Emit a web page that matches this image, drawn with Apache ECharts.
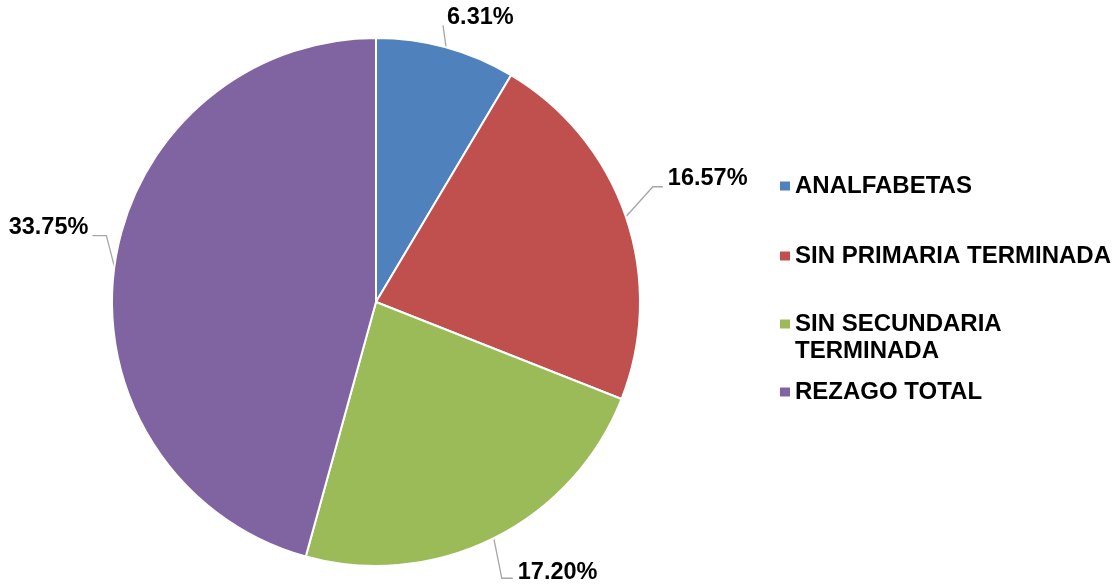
<!DOCTYPE html>
<html>
<head>
<meta charset="utf-8">
<script src="https://cdn.jsdelivr.net/npm/echarts@6/dist/echarts.min.js"></script>
<style>
  html, body { margin: 0; padding: 0; background: #ffffff; }
  #chart { width: 1113px; height: 585px; }
</style>
</head>
<body>
<div id="chart"></div>
<script>
// Education lag breakdown
const categories = ['ANALFABETAS', 'SIN PRIMARIA TERMINADA', 'SIN SECUNDARIA TERMINADA', 'REZAGO TOTAL'];
const values = [6.31, 16.57, 17.20, 33.75];
const legendLabels = ['ANALFABETAS', 'SIN PRIMARIA TERMINADA', 'SIN SECUNDARIA\nTERMINADA', 'REZAGO TOTAL'];

const colors = ['#4F81BD', '#C0504D', '#9BBB59', '#8064A2'];
const FONT = '"Liberation Sans", Arial, sans-serif';
const LABEL_SIZE = 23.5;
const LEGEND_SIZE = 24;

// Leader line layout per label: elbow offset from the slice edge,
// horizontal run after the elbow, and text offset from the line end.
const leaderElbow = [[-3, -22], [27, -30], [8, 40], [-8, -31]];
const leaderRun = [0, 10, 11, -14];
const labelShift = [[4, -8], [5, -8], [5, -6], [-4, -8]];
const labelAlign = ['left', 'left', 'left', 'right'];

// Legend rows (vertical centre of each marker / first text line)
const legendCenters = [186, 256, 324, 392];
const LEGEND_LINE = 27;

const PIE_CENTER = [376, 302];
const PIE_RADIUS = 264;

const total = values.reduce((a, b) => a + b, 0);
function edgePoint(i) {
  let before = 0;
  for (let k = 0; k < i; k++) before += values[k];
  const mid = ((before + values[i] / 2) / total) * Math.PI * 2;
  return [PIE_CENTER[0] + PIE_RADIUS * Math.sin(mid), PIE_CENTER[1] - PIE_RADIUS * Math.cos(mid)];
}

const chart = echarts.init(document.getElementById('chart'), null, { renderer: 'canvas' });

// Legend text is vertically centred on its marker, so a multi-line entry gets
// blank leading lines to keep its first line level with the marker.
function legendText(i) {
  const lines = legendLabels[i].split('\n');
  return '\n'.repeat(lines.length - 1) + legendLabels[i];
}

const legends = categories.map((name, i) => {
  const lineCount = legendText(i).split('\n').length;
  return {
    data: [name],
    orient: 'vertical',
    left: 780,
    top: legendCenters[i] - (lineCount * LEGEND_LINE) / 2,
    padding: 0,
    icon: 'rect',
    itemWidth: 10,
    itemHeight: 9,
    itemStyle: { borderWidth: 0 },
    selectedMode: false,
    formatter: (n) => legendText(categories.indexOf(n)),
    textStyle: {
      fontFamily: FONT,
      fontSize: LEGEND_SIZE,
      fontWeight: 'bold',
      color: '#000000',
      lineHeight: LEGEND_LINE
    }
  };
});

chart.setOption({
  animation: false,
  backgroundColor: '#ffffff',
  color: colors,
  legend: legends,
  series: [{
    type: 'pie',
    center: PIE_CENTER,
    radius: PIE_RADIUS,
    startAngle: 90,
    clockwise: true,
    avoidLabelOverlap: false,
    data: categories.map((n, i) => ({ name: n, value: values[i] })),
    itemStyle: { borderColor: '#ffffff', borderWidth: 2 },
    emphasis: { disabled: true },
    label: {
      show: true,
      position: 'outside',
      formatter: (p) => p.value.toFixed(2) + '%',
      fontFamily: FONT,
      fontSize: LABEL_SIZE,
      fontWeight: 'bold',
      color: '#000000'
    },
    labelLine: {
      show: true,
      length: 20,
      length2: 10,
      lineStyle: { color: '#a6a6a6', width: 1.3 }
    },
    labelLayout: function (p) {
      const i = p.dataIndex;
      const e = (p.labelLinePoints && p.labelLinePoints[0]) || edgePoint(i);
      const elbow = [e[0] + leaderElbow[i][0], e[1] + leaderElbow[i][1]];
      const end = [elbow[0] + leaderRun[i], elbow[1]];
      return {
        x: end[0] + labelShift[i][0],
        y: end[1] + labelShift[i][1],
        align: labelAlign[i],
        verticalAlign: 'middle',
        labelLinePoints: [e, elbow, end]
      };
    }
  }]
});
</script>
</body>
</html>
